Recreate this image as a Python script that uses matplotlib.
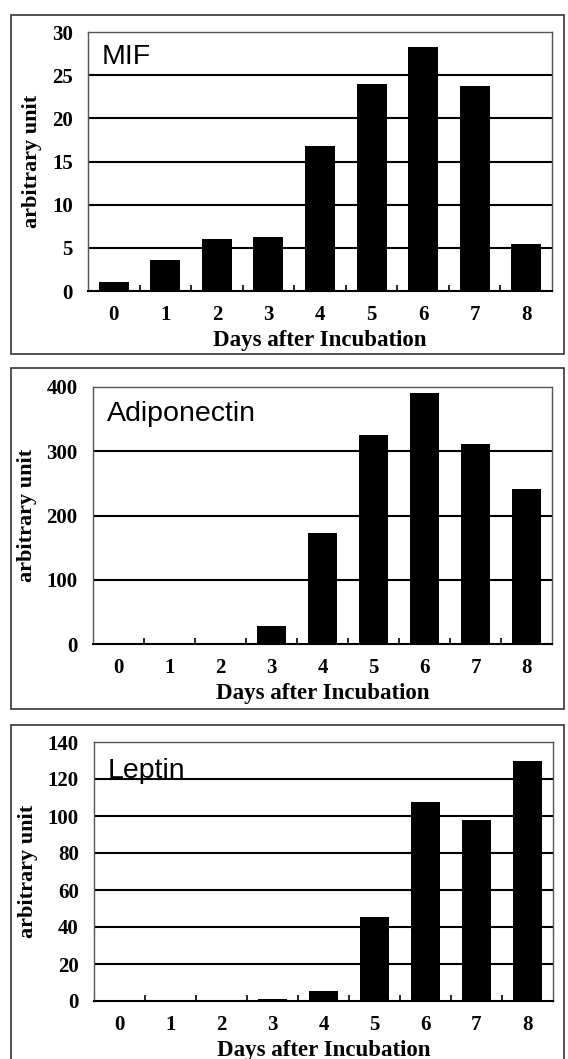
import numpy as np
import matplotlib.pyplot as plt
from matplotlib.patches import Rectangle

days = [0, 1, 2, 3, 4, 5, 6, 7, 8]

mif = [1.1, 3.6, 6.0, 6.3, 16.8, 24.0, 28.3, 23.7, 5.5]
adiponectin = [2, 2, 2, 28, 173, 325, 390, 312, 241]
leptin = [0, 0, 0, 1, 5.6, 45.5, 107.7, 97.7, 130]

panel_names = ['MIF', 'Adiponectin', 'Leptin']
panel_values = [mif, adiponectin, leptin]
y_maxes = [30, 400, 140]
y_steps = [5, 100, 20]

W, H = 568, 1059
fig = plt.figure(figsize=(W / 100, H / 100), dpi=100)

# axes boxes in pixels: left, top, right, bottom
ax_px = [(88, 32, 552, 291),
         (93, 387, 552, 644),
         (94, 742, 553, 1001)]
# outer frames in pixels: left, top, right, bottom
frame_px = [(11, 15, 564, 354),
            (11, 368, 564, 709),
            (11, 725, 564, 1065)]
# panel name vertical position (axes fraction)
name_y = [0.955, 0.945, 0.94]

serif = 'Liberation Serif'
sans = 'Liberation Sans'

for i in range(3):
    l, t, r, b = ax_px[i]
    ax = fig.add_axes([l / W, 1 - b / H, (r - l) / W, (b - t) / H])
    x = np.arange(len(days))
    ax.bar(x, panel_values[i], width=0.58, color='black', zorder=3)

    ax.set_xlim(-0.5, len(days) - 0.5)
    ax.set_ylim(0, y_maxes[i])
    yt = np.arange(0, y_maxes[i] + 1, y_steps[i])
    ax.set_yticks(yt)
    ax.set_yticklabels([str(v) for v in yt], fontfamily=serif,
                       fontweight='bold', fontsize=15)
    for v in yt[1:-1]:
        ax.axhline(v, color='black', lw=1.5, zorder=1)

    ax.set_xticks(x)
    ax.set_xticklabels([str(d) for d in days], fontfamily=serif,
                       fontweight='bold', fontsize=15)
    ax.set_xticks(np.arange(0.5, len(days) - 1, 1), minor=True)
    ax.tick_params(axis='x', which='major', length=0, pad=10)
    ax.tick_params(axis='x', which='minor', length=4, direction='in',
                   width=1.2, color='black')
    ax.tick_params(axis='y', length=0, pad=11)

    for s in ['top', 'right', 'left']:
        ax.spines[s].set_color('#555555')
        ax.spines[s].set_linewidth(1.0)
    ax.spines['bottom'].set_color('black')
    ax.spines['bottom'].set_linewidth(1.5)
    ax.spines['bottom'].set_zorder(4)

    ax.set_xlabel('Days after Incubation', fontfamily=serif,
                  fontweight='bold', fontsize=16.5, labelpad=4)
    ax.set_ylabel('arbitrary unit', fontfamily=serif,
                  fontweight='bold', fontsize=16, labelpad=7)

    ax.text(0.03, name_y[i], panel_names[i], transform=ax.transAxes,
            fontfamily=sans, fontsize=20.5, va='top', ha='left', zorder=5)

    fl, ft, fr, fb = frame_px[i]
    fig.add_artist(Rectangle((fl / W, 1 - fb / H), (fr - fl) / W, (fb - ft) / H,
                             transform=fig.transFigure, fill=False,
                             edgecolor='#333333', lw=1.2))

fig.savefig('out.png', dpi=100)
